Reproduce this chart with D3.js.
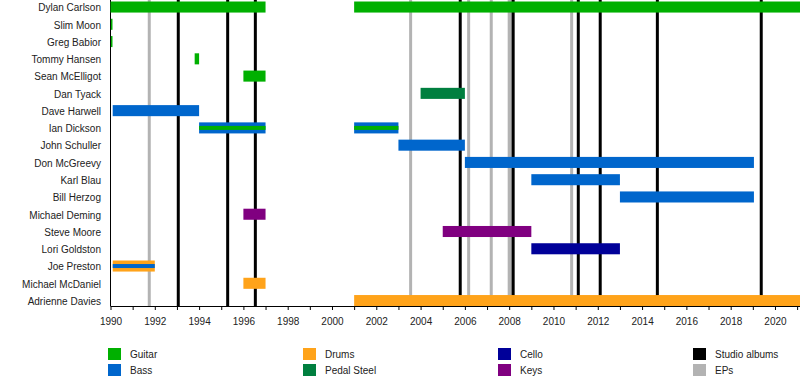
<!DOCTYPE html>
<html><head><meta charset="utf-8">
<script src="https://cdn.jsdelivr.net/npm/d3@7"></script>
<style>body{margin:0;background:#fff}svg{display:block}text{font-family:"Liberation Sans",Arial,sans-serif}</style>
</head><body><svg id="c" width="800" height="381"></svg>
<script>
const members = ["Dylan Carlson","Slim Moon","Greg Babior","Tommy Hansen","Sean McElligot","Dan Tyack","Dave Harwell","Ian Dickson","John Schuller","Don McGreevy","Karl Blau","Bill Herzog","Michael Deming","Steve Moore","Lori Goldston","Joe Preston","Michael McDaniel","Adrienne Davies"];
const roles = ["Guitar","Bass","Drums","Pedal Steel","Cello","Keys"];
const roleColors = ["#00b000","#0066cc","#ffa31a","#007f3f","#000099","#800080"];
// [member, role, start, end]
const bars = [
 ["Dylan Carlson","Guitar",1990,1997],
 ["Dylan Carlson","Guitar",2001,2021.2],
 ["Slim Moon","Guitar",1990.02,1990.09],
 ["Greg Babior","Guitar",1990.02,1990.09],
 ["Tommy Hansen","Guitar",1993.8,1994],
 ["Sean McElligot","Guitar",1996,1997],
 ["Dan Tyack","Pedal Steel",2004,2006],
 ["Dave Harwell","Bass",1990.1,1994],
 ["Ian Dickson","Bass",1994,1997],
 ["Ian Dickson","Bass",2001,2003],
 ["John Schuller","Bass",2003,2006],
 ["Don McGreevy","Bass",2006,2019.05],
 ["Karl Blau","Bass",2009,2013],
 ["Bill Herzog","Bass",2013,2019.05],
 ["Michael Deming","Keys",1996,1997],
 ["Steve Moore","Keys",2005,2009],
 ["Lori Goldston","Cello",2009,2013],
 ["Joe Preston","Drums",1990.1,1992],
 ["Michael McDaniel","Drums",1996,1997],
 ["Adrienne Davies","Drums",2001,2021.2]
];
// secondary role stripes
const stripes = [
 ["Ian Dickson","Guitar",1994,1997],
 ["Ian Dickson","Guitar",2001,2003],
 ["Joe Preston","Bass",1990.1,1992]
];
const studioAlbums = [1993.06,1995.29,1996.54,2005.79,2008.18,2011.12,2012.11,2014.69,2019.38];
const eps = [1991.75,2003.55,2006.17,2007.19,2008.0,2008.1,2010.82];
const tickYears = d3.range(1990,2022);
const legendItems = [["Guitar","#00b000"],["Bass","#0066cc"],["Drums","#ffa31a"],["Pedal Steel","#007f3f"],["Cello","#000099"],["Keys","#800080"],["Studio albums","#000000"],["EPs","#b3b3b3"]];

const svg = d3.select("#c");
const color = d3.scaleOrdinal().domain(roles).range(roleColors);
const x = d3.scaleLinear().domain([1990,2021.13]).range([110.5,800]);
const y = d3.scaleBand().domain(members).range([-1.6,309.2]).paddingInner(0.36).paddingOuter(0.18);
const axisY = 306;

// vertical release lines
svg.append("g").selectAll("line").data(eps).join("line")
 .attr("x1",d=>x(d)).attr("x2",d=>x(d)).attr("y1",0).attr("y2",axisY)
 .attr("stroke","#b3b3b3").attr("stroke-width",3);
svg.append("g").selectAll("line").data(studioAlbums).join("line")
 .attr("x1",d=>x(d)).attr("x2",d=>x(d)).attr("y1",0).attr("y2",axisY)
 .attr("stroke","#000").attr("stroke-width",3);

// left axis line
svg.append("line").attr("x1",110.5).attr("x2",110.5).attr("y1",0).attr("y2",axisY).attr("stroke","#000");

// bars
svg.append("g").selectAll("rect").data(bars).join("rect")
 .attr("x",d=>x(d[2])).attr("width",d=>Math.max(1.5,x(d[3])-x(d[2])))
 .attr("y",d=>y(d[0])).attr("height",y.bandwidth())
 .attr("fill",d=>color(d[1]));
svg.append("g").selectAll("rect").data(stripes).join("rect")
 .attr("x",d=>x(d[2])).attr("width",d=>x(d[3])-x(d[2]))
 .attr("y",d=>y(d[0])+y.bandwidth()/2-2).attr("height",4)
 .attr("fill",d=>color(d[1]));

// member labels
svg.append("g").selectAll("text").data(members).join("text")
 .attr("x",101).attr("y",d=>y(d)+y.bandwidth()/2+0.8).attr("dy","0.35em")
 .attr("text-anchor","end").attr("font-size",10).attr("fill","#222").text(d=>d);

// x axis
const xAxis = d3.axisBottom(x).tickValues(tickYears).tickSize(4)
 .tickFormat(d=>d%2===0?String(d):"");
const gx = svg.append("g").attr("transform",`translate(0,${axisY})`).call(xAxis);
gx.select(".domain").attr("d",`M110.5,0.5H800`).attr("stroke","#000");
gx.selectAll(".tick line").attr("stroke","#000");
gx.selectAll(".tick text").attr("font-size",10).attr("fill","#222").attr("y",12).attr("font-family","Liberation Sans, Arial, sans-serif");

// legend
const cols = [108,303,498,693];
const lg = svg.append("g").selectAll("g").data(legendItems).join("g")
 .attr("transform",(d,i)=>`translate(${cols[Math.floor(i/2)]},${i%2===0?348:364})`);
lg.append("rect").attr("width",13).attr("height",12).attr("fill",d=>d[1]);
lg.append("text").attr("x",22).attr("y",6).attr("dy","0.35em").attr("font-size",10).attr("fill","#222").text(d=>d[0]);
</script></body></html>
